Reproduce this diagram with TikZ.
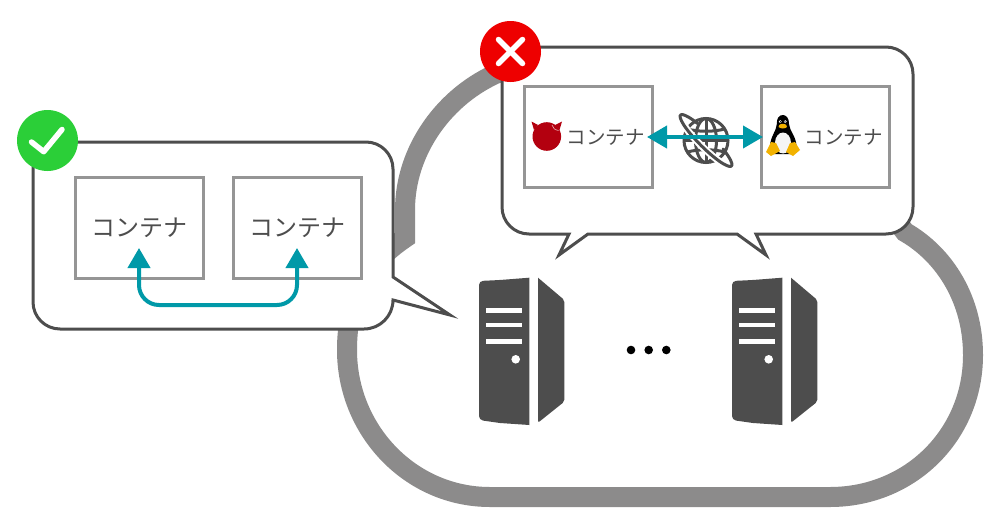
\documentclass[tikz,border=0pt]{standalone}
\usepackage{fontspec}
\newfontfamily\jpfont{Noto Sans CJK JP}
\usepackage{xcolor}
\usetikzlibrary{arrows.meta,positioning,calc}

\definecolor{cloudgray}{HTML}{8C8B8B}
\definecolor{boxgray}{HTML}{959595}
\definecolor{darkgray}{HTML}{4D4D4D}
\definecolor{linkteal}{HTML}{0099A8}
\definecolor{okgreen}{HTML}{2BCF38}
\definecolor{ngred}{HTML}{EE0000}
\definecolor{beastred}{HTML}{B3000F}
\definecolor{tuxyellow}{HTML}{F2B200}

\tikzset{
    cloudline/.style={draw=cloudgray, fill=white, line width=20pt, line join=miter},
    bubble/.style={draw=darkgray, fill=white, line width=3pt, line join=miter},
    container/.style={draw=boxgray, fill=white, line width=3pt, outer sep=0pt, minimum width=128pt, minimum height=101pt},
    biglabel/.style={font=\jpfont\fontsize{24}{24}\selectfont, text=darkgray, inner sep=0pt},
    smalllabel/.style={font=\jpfont\fontsize{19.5}{20}\selectfont, text=darkgray, inner sep=0pt},
    link/.style={draw=linkteal, line width=4pt, {Triangle[length=20pt,width=22pt,fill=linkteal]}-{Triangle[length=20pt,width=22pt,fill=linkteal]}},
    badge/.style={circle, inner sep=0pt, minimum size=61pt, outer sep=0pt},
    badgemark/.style={draw=white, line width=5.5pt, line cap=round, line join=round},
    globeline/.style={draw=darkgray, line width=3pt},
}

\begin{document}
\begin{tikzpicture}[x=1pt, y=-1pt]
    \useasboundingbox (0,0) rectangle (1000,530);

    % Cloud
    \draw[cloudline] (347,350) .. controls (347,430) and (410,497) .. (490,497)
        -- (830,497) .. controls (910,497) and (973,435) .. (973,355)
        .. controls (973,300) and (945,255) .. (905,232)
        -- (880,200) -- (500,72)
        .. controls (445,95) and (405,150) .. (405,210)
        -- (405,238) .. controls (365,265) and (347,300) .. cycle;

    % Servers
    \foreach \sx in {0,253} {
        \begin{scope}[xshift=\sx pt]
            \fill[darkgray] [rounded corners=4pt] (479,300) -- (479,281) -- (500,280) [sharp corners]
                -- (529.3,277.7) -- (529.3,425) -- (500,423) [rounded corners=4pt] -- (479,420) -- cycle;
            \fill[darkgray] [rounded corners=2pt] (538,277.7) -- (564.3,300) -- (564.3,401.7) -- (538,422.7) [sharp corners] -- cycle;
            \foreach \ly in {310.5,325.2,341.3} {
                \fill[white] (486,\ly-2.2) rectangle (522.3,\ly+2.2);
            }
            \fill[white] (515.7,359.3) circle (4.3);
        \end{scope}
    }
    \foreach \dx in {631,648.7,666.3} {
        \fill[black] (\dx,350) circle (4.3);
    }

    % Left bubble
    \draw[bubble] (33,169) arc[start angle=180, end angle=270, radius=27] -- (366,142)
        arc[start angle=270, end angle=360, radius=27] -- (393,277) -- (450,315) -- (393,300)
        arc[start angle=0, end angle=90, radius=29] -- (60,329)
        arc[start angle=90, end angle=180, radius=27] -- cycle;

    % Right bubble
    \draw[bubble] (502,74) arc[start angle=180, end angle=270, radius=27] -- (886,47)
        arc[start angle=270, end angle=360, radius=27] -- (913,207)
        arc[start angle=0, end angle=90, radius=27] -- (756,234) -- (766,255) -- (737,234)
        -- (588,234) -- (559,255) -- (569,234) -- (529,234)
        arc[start angle=90, end angle=180, radius=27] -- cycle;

    % Containers
    \node[container] (okleft) at (139,227.5) {};
    \node[container] (okright) at (297,227.5) {};
    \node[container] (ngleft) at (588,137) {};
    \node[container] (ngright) at (825,137) {};

    \node[biglabel] (oklefttext) at (139.5,228) {コンテナ};
    \node[biglabel] (okrighttext) at (297.5,228) {コンテナ};
    \node[smalllabel] (nglefttext) at (605.5,137) {コンテナ};
    \node[smalllabel] (ngrighttext) at (843.5,137) {コンテナ};

    % FreeBSD head
    \fill[beastred] (531.5,121.5) -- (534,130) -- (538,125) -- cycle;
    \fill[beastred] (562,121.5) -- (559.5,130) -- (555,125) -- cycle;
    \fill[beastred] (546.8,136.5) circle (14.3);
    \draw[white!70!beastred, line width=0.6pt] (552,125) .. controls (552.5,128) and (555,130) .. (558.5,130.5);

    % Tux
    \fill[black] (776.8,124) .. controls (776,112) and (789.5,112) .. (789,124)
        .. controls (789.5,131) and (796,136) .. (796.5,146) -- (793,154) -- (773,154) -- (770,146)
        .. controls (770.5,136) and (776.5,131) .. (776.8,124) -- cycle;
    \fill[white!96!black] (783,143) ellipse [x radius=8, y radius=10.5];
    \fill[white] (780.3,121.6) circle (1.5);
    \fill[white] (785.3,121.6) circle (1.5);
    \fill[black] (780.6,121.8) circle (0.7);
    \fill[black] (785,121.8) circle (0.7);
    \fill[tuxyellow] (782.8,123.8) .. controls (786,123.8) and (787.5,126) .. (787,127)
        .. controls (785,129) and (781,129) .. (778.5,127)
        .. controls (778,126) and (779.5,123.8) .. (782.8,123.8) -- cycle;
    \fill[tuxyellow] (766,152) -- (771,142) -- (776,143) -- (780,151) -- (771,156) -- cycle;
    \fill[tuxyellow] (800,150) -- (795,142) -- (790,143) -- (786,152) -- (793,156) -- cycle;

    % Globe
    \begin{scope}[shift={(706,140.5)}]
        \draw[globeline] (0,0) circle (22);
        \draw[globeline] (0,0) ellipse [x radius=10.5, y radius=22];
        \draw[globeline] (0,-22) -- (0,22);
        \draw[globeline] (-22,0) -- (22,0);
        \draw[globeline] (-18.5,-11.5) .. controls (-8,-8.5) and (8,-8.5) .. (18.5,-11.5);
        \draw[globeline] (-18.5,11.5) .. controls (-8,8.5) and (8,8.5) .. (18.5,11.5);
        \begin{scope}[rotate=-45]
            \draw[white, line width=7pt] (200:36 and 7) arc[start angle=200, end angle=-20, x radius=36, y radius=7];
            \draw[globeline, line cap=round] (240:36 and 7) arc[start angle=240, end angle=-60, x radius=36, y radius=7];
        \end{scope}
    \end{scope}

    % Links
    \draw[link, shorten <=-5pt, shorten >=-2pt] (ngleft.east) -- (ngright.west);

    \coordinate (oktipa) at (139,248);
    \coordinate (oktipb) at (297,248);
    \coordinate (okmid) at (218,305);
    \draw[draw=linkteal, line width=4pt, rounded corners=20pt, {Triangle[length=20pt,width=22pt,fill=linkteal]}-{Triangle[length=20pt,width=22pt,fill=linkteal]}]
        (oktipa) |- (okmid) -| (oktipb);

    % Badges
    \node[badge, fill=okgreen] (okbadge) at (47.5,140.5) {};
    \draw[badgemark] (31.5,142) -- (43.7,151.7) -- (62,129.5);
    \node[badge, fill=ngred] (ngbadge) at (510.5,51.5) {};
    \draw[badgemark] (498.5,39.5) -- (522.5,63.5);
    \draw[badgemark] (522.5,39.5) -- (498.5,63.5);
\end{tikzpicture}
\end{document}
